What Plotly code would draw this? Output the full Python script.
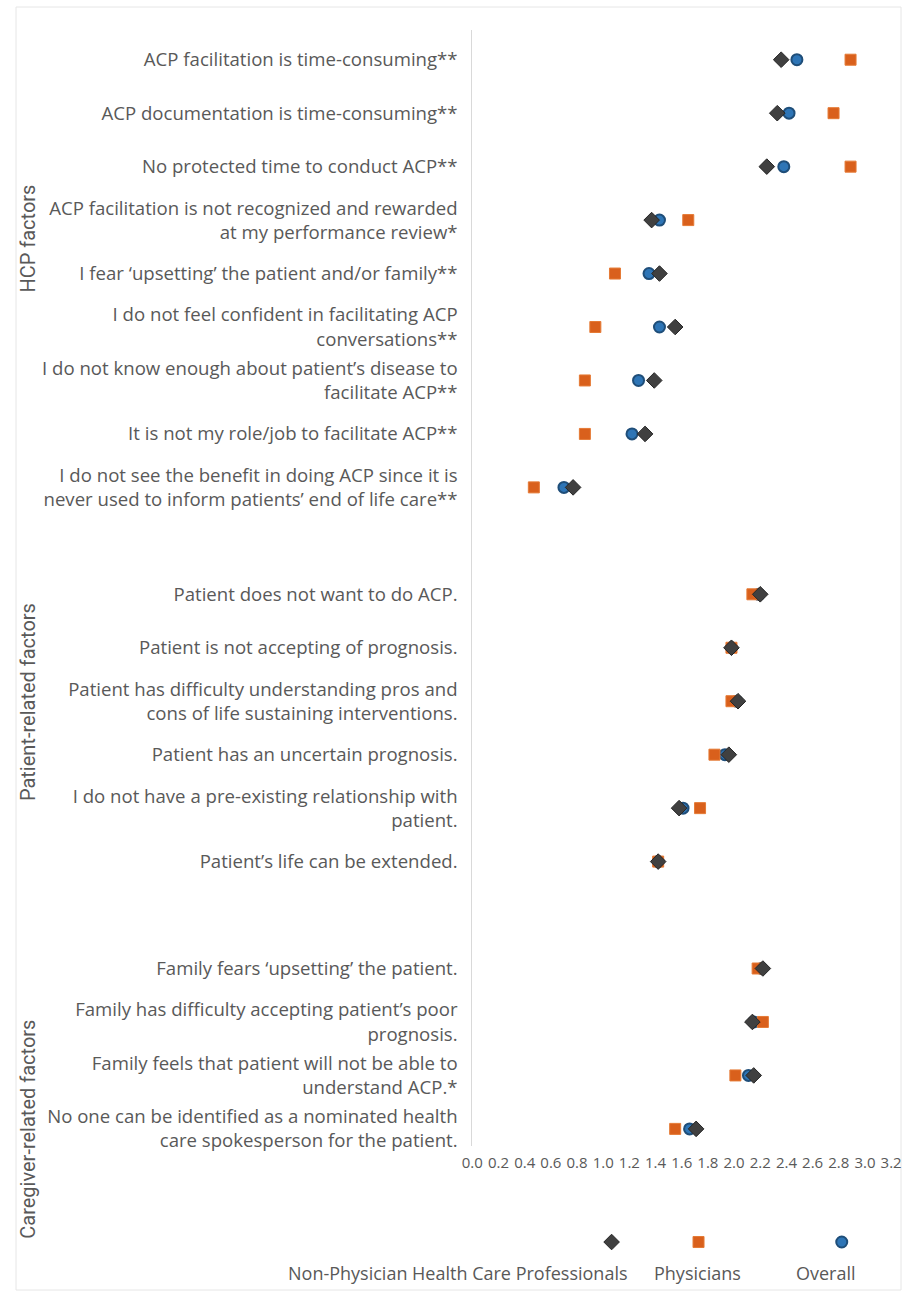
import plotly.graph_objects as go

# ---------------- data ----------------
group_names = ["HCP factors", "Patient-related factors", "Caregiver-related factors"]

hcp_labels = [
    "ACP facilitation is time-consuming**",
    "ACP documentation is time-consuming**",
    "No protected time to conduct ACP**",
    "ACP facilitation is not recognized and rewarded<br>at my performance review*",
    "I fear \u2018upsetting\u2019 the patient and/or family**",
    "I do not feel confident in facilitating ACP<br>conversations**",
    "I do not know enough about patient\u2019s disease to<br>facilitate ACP**",
    "It is not my role/job to facilitate ACP**",
    "I do not see the benefit in doing ACP since it is<br>never used to inform patients\u2019 end of life care**",
]
hcp_nonphys = [2.36, 2.33, 2.25, 1.37, 1.43, 1.55, 1.39, 1.32, 0.77]
hcp_phys = [2.89, 2.76, 2.89, 1.65, 1.09, 0.94, 0.86, 0.86, 0.47]
hcp_overall = [2.48, 2.42, 2.38, 1.43, 1.35, 1.43, 1.27, 1.22, 0.70]

patient_labels = [
    "Patient does not want to do ACP.",
    "Patient is not accepting of prognosis.",
    "Patient has difficulty understanding pros and<br>cons of life sustaining interventions.",
    "Patient has an uncertain prognosis.",
    "I do not have a pre-existing relationship with<br>patient.",
    "Patient\u2019s life can be extended.",
]
patient_nonphys = [2.20, 1.98, 2.03, 1.96, 1.58, 1.42]
patient_phys = [2.14, 1.98, 1.98, 1.85, 1.74, 1.42]
patient_overall = [2.19, 1.98, 2.02, 1.93, 1.61, 1.42]

care_labels = [
    "Family fears \u2018upsetting\u2019 the patient.",
    "Family has difficulty accepting patient\u2019s poor<br>prognosis.",
    "Family feels that patient will not be able to<br>understand ACP.*",
    "No one can be identified as a nominated health<br>care spokesperson for the patient.",
]
care_nonphys = [2.22, 2.14, 2.15, 1.71]
care_phys = [2.18, 2.22, 2.01, 1.55]
care_overall = [2.21, 2.15, 2.11, 1.66]

series_names = ["Non-Physician Health Care Professionals", "Physicians", "Overall"]
x_ticks = [round(0.2 * i, 1) for i in range(17)]

# ---------------- assemble ----------------
groups = [
    (hcp_labels, hcp_nonphys, hcp_phys, hcp_overall),
    (patient_labels, patient_nonphys, patient_phys, patient_overall),
    (care_labels, care_nonphys, care_phys, care_overall),
]
labels, pos, nonphys, phys, overall = [], [], [], [], []
cursor = 0
for lab, a, b, c in groups:
    p = list(range(cursor, cursor + len(lab)))
    labels += lab; pos += p; nonphys += a; phys += b; overall += c
    cursor += len(lab) + 1

GRAY = "#595959"
FONT = "'Open Sans', Lato, sans-serif"

# geometry (pixels)
W, H = 917, 1302
ML, MR, MT, MB = 11, 10, 7, 5
PW, PH = W - ML - MR, H - MT - MB
def px_x(px):
    return (px - ML) / PW
def px_y(py):
    return (H - MB - py) / PH

plot_left, plot_right, plot_top, plot_bot = 473, 897, 30, 1152
row0_px, rowN_px = 60, 1135
n_last = pos[-1]
unit = (rowN_px - row0_px) / n_last
y_range = [n_last + (plot_bot - rowN_px) / unit, -(row0_px - plot_top) / unit]

fig = go.Figure()

styles = {
    "Overall": dict(symbol="circle", size=11, color="#2E75B6",
                    line=dict(color="#1F4E79", width=2)),
    "Physicians": dict(symbol="square", size=11, color="#D9601C",
                       line=dict(color="#E57A35", width=1)),
    "Non-Physician Health Care Professionals": dict(symbol="diamond", size=12, color="#404040",
                                                    line=dict(color="#262626", width=1)),
}
vals = {"Overall": overall, "Physicians": phys,
        "Non-Physician Health Care Professionals": nonphys}

for name in ["Overall", "Physicians", "Non-Physician Health Care Professionals"]:
    fig.add_trace(go.Scatter(x=vals[name], y=pos, mode="markers", name=name,
                             marker=styles[name], showlegend=False,
                             xaxis="x", yaxis="y"))

# custom legend (markers above text), on a hidden auxiliary axis
leg_marker_px = {"Non-Physician Health Care Professionals": 614, "Physicians": 702, "Overall": 847}
leg_text_px = {"Non-Physician Health Care Professionals": 458, "Physicians": 701, "Overall": 831}
for name in series_names:
    fig.add_trace(go.Scatter(x=[leg_marker_px[name]], y=[0.75], mode="markers",
                             marker=styles[name], showlegend=False,
                             xaxis="x2", yaxis="y2", hoverinfo="skip"))
    fig.add_annotation(x=leg_text_px[name], y=0.18, xref="x2", yref="y2",
                       text=name, showarrow=False, xanchor="center", yanchor="middle",
                       font=dict(family=FONT, size=18, color=GRAY))

# group labels
group_label_py = [240, 706, 1135]
for gname, gy in zip(group_names, group_label_py):
    fig.add_annotation(x=px_x(23), y=px_y(gy), xref="paper", yref="paper",
                       text=gname, textangle=-90, showarrow=False,
                       xanchor="center", yanchor="middle",
                       font=dict(family="'Liberation Sans Narrow', 'Roboto', sans-serif",
                                 size=20, color=GRAY))

# outer border
fig.add_shape(type="rect", xref="paper", yref="paper", x0=0, x1=1, y0=0, y1=1,
              line=dict(color="#e6e6e6", width=1), fillcolor="rgba(0,0,0,0)", layer="below")

fig.update_layout(
    width=W, height=H,
    margin=dict(l=ML, r=MR, t=MT, b=MB, pad=0),
    paper_bgcolor="white", plot_bgcolor="white",
    font=dict(family=FONT, color=GRAY),
    showlegend=False,
    xaxis=dict(domain=[px_x(plot_left), px_x(plot_right)], range=[0, 3.2],
               tickvals=x_ticks, ticktext=[f"{v:.1f}" for v in x_ticks],
               showgrid=False, zeroline=False, showline=False, ticks="",
               ticklabelstandoff=6,
               tickfont=dict(family=FONT, size=15, color=GRAY), anchor="y"),
    yaxis=dict(domain=[px_y(plot_bot), px_y(plot_top)], range=y_range,
               tickvals=pos, ticktext=labels, showgrid=False, zeroline=False,
               showline=True, linecolor="#d9d9d9", linewidth=1, ticks="",
               ticklabelstandoff=10,
               tickfont=dict(family=FONT, size=18.6, color=GRAY), anchor="x"),
    xaxis2=dict(domain=[0, 1], range=[ML, W - MR], visible=False, anchor="y2"),
    yaxis2=dict(domain=[px_y(1290), px_y(1235)], range=[0, 1], visible=False, anchor="x2"),
)

fig.write_html("out.html", config={"displayModeBar": False})
